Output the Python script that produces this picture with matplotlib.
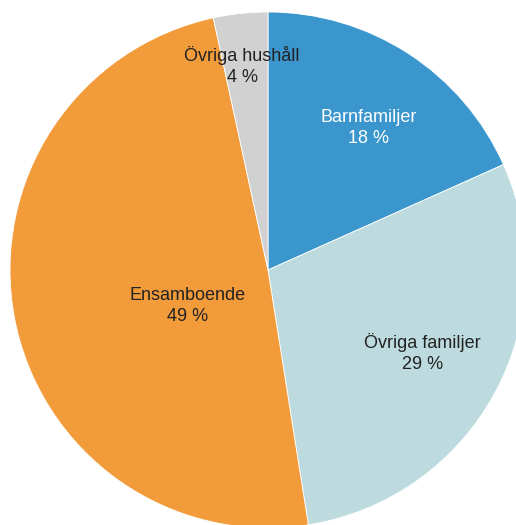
import matplotlib.pyplot as plt

plt.rcParams['font.family'] = ['Liberation Sans', 'DejaVu Sans']

# Share of households, clockwise from 12 o'clock
categories = ['Barnfamiljer', 'Övriga familjer', 'Ensamboende', 'Övriga hushåll']
shares = [18.3, 29.2, 49.1, 3.4]
pct_labels = ['18 %', '29 %', '49 %', '4 %']

colors = ['#3a96cc', '#bddbde', '#f29b3b', '#d1d1d1']
text_colors = ['white', '#222222', '#222222', '#222222']
label_pos = [(0.39, 0.55), (0.60, -0.32), (-0.31, -0.14), (-0.10, 0.79)]

fig = plt.figure(figsize=(5.16, 5.25), dpi=100)
ax = fig.add_axes([10 / 516, -3 / 525, 516 / 516, 516 / 525])

ax.pie(shares, colors=colors, startangle=90, counterclock=False,
       wedgeprops={'edgecolor': 'white', 'linewidth': 0.6})

for name, pct, (x, y), tc in zip(categories, pct_labels, label_pos, text_colors):
    ax.text(x, y, f'{name}\n{pct}', ha='center', va='center',
            fontsize=13, color=tc, linespacing=1.3)

ax.set_xlim(-1, 1)
ax.set_ylim(-1, 1)
ax.set_aspect('equal')
ax.axis('off')

fig.savefig('out.png', dpi=100)
